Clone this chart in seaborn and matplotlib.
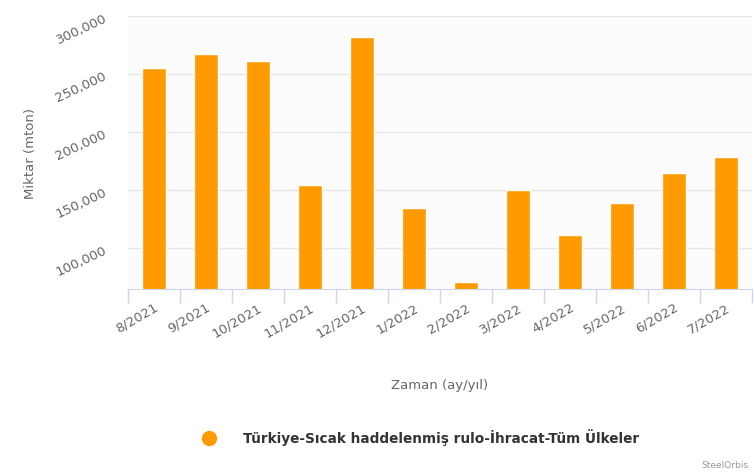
import numpy as np
import pandas as pd
import matplotlib
matplotlib.use("Agg")
import matplotlib.pyplot as plt
import seaborn as sns
from matplotlib.lines import Line2D
from matplotlib.ticker import FuncFormatter, FixedLocator

# monthly hot rolled coil exports (mton)
months = ["8/2021", "9/2021", "10/2021", "11/2021", "12/2021", "1/2022",
          "2/2022", "3/2022", "4/2022", "5/2022", "6/2022", "7/2022"]
amounts = [255200, 267400, 261400, 154300, 281800, 134400,
           71300, 150300, 111200, 138700, 165000, 178900]
y_ticks = [100000, 150000, 200000, 250000, 300000]
series_name = "Türkiye-Sıcak haddelenmiş rulo-İhracat-Tüm Ülkeler"

df = pd.DataFrame({"month": months, "amount": amounts})

sns.set_style("white")
plt.rcParams["font.family"] = ["DejaVu Sans"]

fig = plt.figure(figsize=(7.54, 4.77), dpi=100)
ax = fig.add_axes([0.170, 0.392, 0.827, 0.573])
ax.set_facecolor("#fcfcfc")

sns.barplot(data=df, x="month", y="amount", color="#ff9a00", width=0.46,
            saturation=1, ax=ax)

ax.set_ylim(65000, 300000)
ax.set_xlim(-0.5, len(months) - 0.5)
ax.yaxis.set_major_locator(FixedLocator(y_ticks))
ax.yaxis.set_major_formatter(FuncFormatter(lambda v, p: f"{int(v):,}"))
ax.grid(axis="y", color="#e6e6e6", linewidth=1)
ax.set_axisbelow(True)

for s in ["top", "right", "left"]:
    ax.spines[s].set_visible(False)
ax.spines["bottom"].set_color("#ccd6eb")

# tick marks sit between categories
ax.set_xticks(np.arange(-0.5, len(months)), minor=True)
ax.tick_params(axis="x", which="minor", bottom=True, length=10,
               color="#ccd6eb", width=1)
ax.tick_params(axis="x", which="major", length=0, pad=8)
ax.tick_params(axis="y", length=0, pad=14)

for lab in ax.get_xticklabels():
    lab.set_rotation(30)
    lab.set_ha("right")
    lab.set_rotation_mode("anchor")
    lab.set_color("#666666")
    lab.set_fontsize(9.5)
for lab in ax.get_yticklabels():
    lab.set_rotation(25)
    lab.set_color("#666666")
    lab.set_fontsize(9.5)

ax.set_xlabel("Zaman (ay/yıl)", color="#666666", fontsize=9.5, labelpad=28)
ax.set_ylabel("Miktar (mton)", color="#666666", fontsize=9.5, labelpad=12)

handle = Line2D([], [], marker="o", linestyle="none", markersize=10,
                markerfacecolor="#ff9a00", markeredgecolor="#ff9a00")
leg = fig.legend([handle], [series_name], loc="center",
                 bbox_to_anchor=(0.553, 0.082), frameon=False,
                 prop={"weight": "bold", "size": 9.8}, handletextpad=1.5)
for t in leg.get_texts():
    t.set_color("#333333")

fig.text(0.993, 0.015, "SteelOrbis", ha="right", va="bottom",
         fontsize=6.5, color="#999999")

fig.savefig("out.png", dpi=100)
